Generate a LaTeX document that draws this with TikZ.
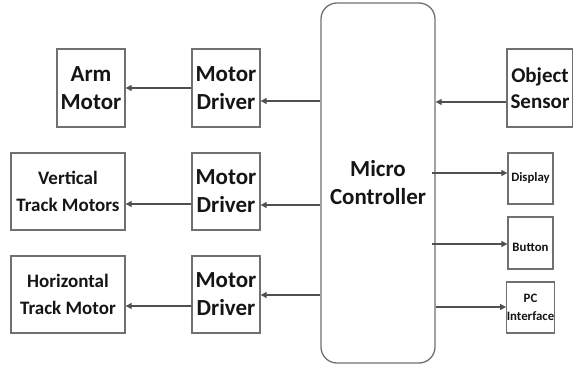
\documentclass[tikz,border=0pt]{standalone}
\usepackage{fontspec}
\setmainfont{Carlito}
\usetikzlibrary{arrows.meta}
\definecolor{boxgray}{HTML}{707070}
\definecolor{linegray}{HTML}{505050}
\definecolor{txt}{HTML}{151515}
\tikzset{
  blk/.style={draw=boxgray, line width=1.3pt, minimum width=68pt, minimum height=78pt, inner sep=0pt, align=center, text=txt, font=\bfseries\fontsize{23}{28}\selectfont},
  wideblk/.style={blk, minimum width=114pt, minimum height=77pt, font=\bfseries\fontsize{19}{26.5}\selectfont},
  smallblk/.style={draw=boxgray, line width=1.3pt, minimum width=45pt, minimum height=51pt, inner sep=0pt, align=center, text=txt, font=\bfseries\fontsize{12.8}{19}\selectfont},
  arr/.style={draw=linegray, line width=1.1pt, -{Triangle[length=6pt,width=6pt]}},
}
\begin{document}
\begin{tikzpicture}[x=1pt,y=-1pt]
\useasboundingbox (0,0) rectangle (573,366);
% left column
\node[blk] (arm) at (91,88) {Arm\\Motor};
\node[wideblk] (vert) at (68,191.5) {Vertical\\Track Motors};
\node[wideblk] (horiz) at (68,294.5) {Horizontal\\Track Motor};
% drivers
\node[blk] (md1) at (226,88) {Motor\\Driver};
\node[blk, minimum height=77pt] (md2) at (226,191.5) {Motor\\Driver};
\node[blk, minimum height=77pt] (md3) at (226,294.5) {Motor\\Driver};
% micro controller
\node[draw=boxgray, line width=1.3pt, rounded corners=16pt, minimum width=114pt, minimum height=360pt, inner sep=0pt, align=center, text=txt, font=\bfseries\fontsize{23}{28}\selectfont] (mc) at (378,183) {Micro\\Controller};
% right column
\node[blk, minimum width=66pt, font=\bfseries\fontsize{21}{26}\selectfont] (sensor) at (540,88) {Object\\Sensor};
\node[smallblk] (disp) at (530.5,178.5) {Display};
\node[smallblk, minimum height=52pt] (btn) at (530.5,243) {\raisebox{-9pt}[0pt][0pt]{Button}};
\node[smallblk] (pc) at (530.5,307.5) {PC\\[-1pt]Interface};
% helper coordinates
\coordinate (y1) at (0,101);
\coordinate (y2) at (0,205);
\coordinate (y3) at (0,295);
\coordinate (s1) at (0,102);
\coordinate (d1) at (0,173);
\coordinate (b1) at (0,244);
\coordinate (p1) at (0,307);
\coordinate (w2) at (0,204);
\coordinate (w3) at (0,306);
% connectors
\draw[arr] (md1.west) -- (arm.east);
\draw[arr] (md2.west |- w2) -- (vert.east |- w2);
\draw[arr] (md3.west |- w3) -- (horiz.east |- w3);
\draw[arr] (mc.west |- y1) -- (md1.east |- y1);
\draw[arr] (mc.west |- y2) -- (md2.east |- y2);
\draw[arr] (mc.west |- y3) -- (md3.east |- y3);
\draw[arr] (sensor.west |- s1) -- (mc.east |- s1);
\draw[arr] ([xshift=-4pt]mc.east |- d1) -- (disp.west |- d1);
\draw[arr] ([xshift=-4pt]mc.east |- b1) -- (btn.west |- b1);
\draw[arr] (mc.east |- p1) -- (pc.west |- p1);
\end{tikzpicture}
\end{document}
